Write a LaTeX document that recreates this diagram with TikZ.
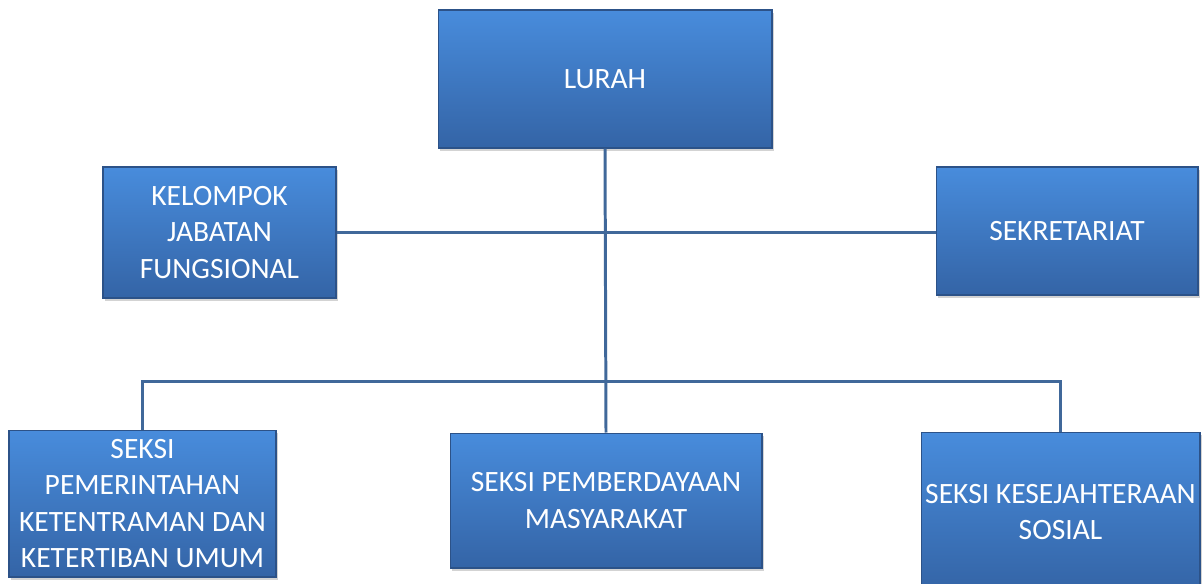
\documentclass[tikz,border=0pt]{standalone}
\usepackage{fontspec}
\setmainfont{Carlito}
\usepackage{xcolor}
\usetikzlibrary{shadows}

\definecolor{boxtop}{RGB}{72,140,220}
\definecolor{boxbot}{RGB}{52,100,166}
\definecolor{boxedge}{RGB}{44,82,136}
\definecolor{linkcol}{RGB}{64,104,154}

\begin{document}
\begin{tikzpicture}[x=0.02cm, y=-0.02cm,
        unit/.style={rectangle, draw=boxedge, line width=0.6pt,
            top color=boxtop, bottom color=boxbot, text=white, align=center,
            font=\fontsize{16.8}{20.8}\selectfont, inner sep=0pt,
            drop shadow={shadow xshift=1pt, shadow yshift=-1.5pt, opacity=0.35}},
        link/.style={draw=linkcol, line width=1.7pt}]
            \useasboundingbox (0, 0) rectangle (1203, 583);

            \node[unit, minimum width=6.68cm, minimum height=2.76cm] (lurah) at (605, 79) {LURAH};
            \node[unit, minimum width=4.66cm, minimum height=2.62cm] (kelompok) at (219.5, 232.5) {KELOMPOK\\JABATAN\\FUNGSIONAL};
            \node[unit, minimum width=5.24cm, minimum height=2.56cm] (sekretariat) at (1067, 231) {SEKRETARIAT};
            \node[unit, minimum width=5.34cm, minimum height=2.94cm] (pemerintahan) at (142.5, 503.5) {SEKSI\\PEMERINTAHAN\\KETENTRAMAN DAN\\KETERTIBAN UMUM};
            \node[unit, minimum width=6.24cm, minimum height=2.70cm] (pemberdayaan) at (606, 500.5) {SEKSI PEMBERDAYAAN\\MASYARAKAT};
            \node[unit, minimum width=5.58cm, minimum height=3.2cm] (kesejahteraan) at (1060.5, 512) {SEKSI KESEJAHTERAAN\\SOSIAL};

            \coordinate (bus) at (606, 381);

            \draw[link] (lurah.south) -- (pemberdayaan.north); % lurah-seksi
            \draw[link] (kelompok.east) -- (kelompok.east -| sekretariat.west); % kelompok-sekretariat
            \draw[link] (pemerintahan.north) |- (bus) -| (kesejahteraan.north); % seksi bus
        \end{tikzpicture}
\end{document}
